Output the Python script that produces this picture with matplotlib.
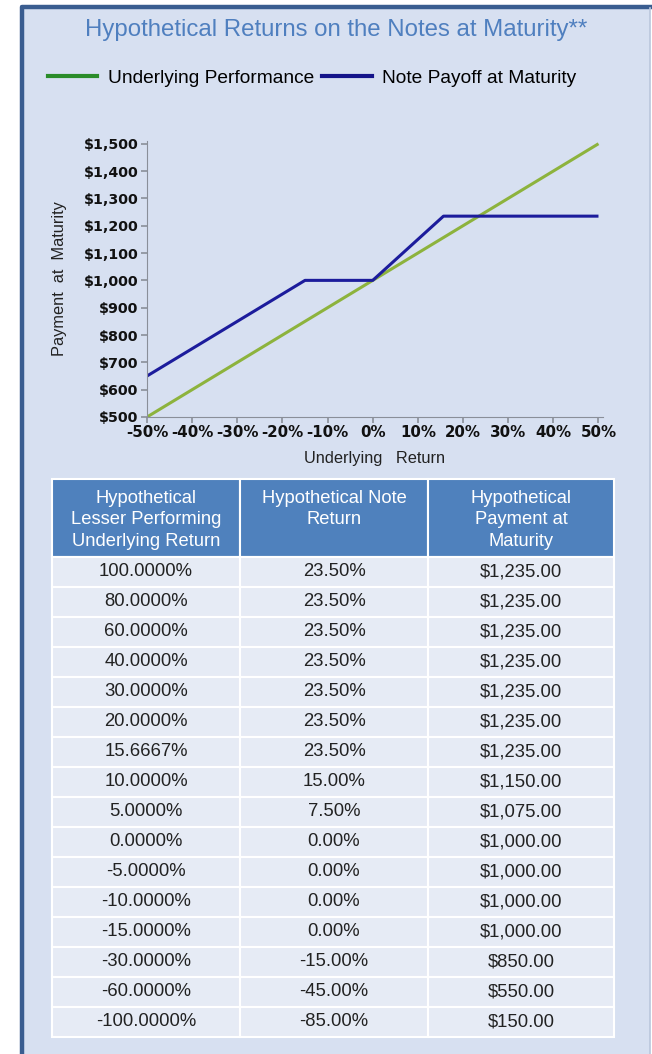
import matplotlib.pyplot as plt
from matplotlib.patches import Rectangle
from matplotlib.lines import Line2D
from matplotlib.ticker import FuncFormatter

# chart data
underlying_x = [-50, 50]
underlying_y = [500, 1500]
note_x = [-50, -15, 0, 15.6667, 50]
note_y = [650, 1000, 1000, 1235, 1235]

x_ticks = [-50, -40, -30, -20, -10, 0, 10, 20, 30, 40, 50]
y_ticks = [500, 600, 700, 800, 900, 1000, 1100, 1200, 1300, 1400, 1500]

# table data
headers = ["Hypothetical\nLesser Performing\nUnderlying Return",
           "Hypothetical Note\nReturn\n",
           "Hypothetical\nPayment at\nMaturity"]
lesser_return = ["100.0000%", "80.0000%", "60.0000%", "40.0000%", "30.0000%",
                 "20.0000%", "15.6667%", "10.0000%", "5.0000%", "0.0000%",
                 "-5.0000%", "-10.0000%", "-15.0000%", "-30.0000%",
                 "-60.0000%", "-100.0000%"]
note_return = ["23.50%", "23.50%", "23.50%", "23.50%", "23.50%", "23.50%",
               "23.50%", "15.00%", "7.50%", "0.00%", "0.00%", "0.00%",
               "0.00%", "-15.00%", "-45.00%", "-85.00%"]
payment = ["$1,235.00", "$1,235.00", "$1,235.00", "$1,235.00", "$1,235.00",
           "$1,235.00", "$1,235.00", "$1,150.00", "$1,075.00", "$1,000.00",
           "$1,000.00", "$1,000.00", "$1,000.00", "$850.00", "$550.00",
           "$150.00"]

W, H = 652, 1054
bg = "#d7e0f1"
sans = ["Liberation Sans", "DejaVu Sans"]

fig = plt.figure(figsize=(W / 100, H / 100), dpi=100)
fig.patch.set_facecolor("white")

# pixel-space overlay for panel, title and table
pan = fig.add_axes([0, 0, 1, 1])
pan.set_xlim(0, W)
pan.set_ylim(H, 0)
pan.axis("off")
pan.add_patch(Rectangle((20, 5), 630, 1060, facecolor=bg, edgecolor="none"))
pan.plot([21.5, 21.5, 652], [1054, 6.5, 6.5], color="#3a5d90", lw=3.2, solid_capstyle="butt")
pan.plot([650, 650], [8, 1054], color="#b9c6dc", lw=1.2)

pan.text(336, 30, "Hypothetical Returns on the Notes at Maturity**", ha="center", va="center",
         fontsize=17.3, color="#4f7fbf", family=sans)

# table
col_edges = [52, 240, 428, 614]
head_top, head_bot = 479, 557
row_h = 30.0
for j in range(3):
    x0, x1 = col_edges[j], col_edges[j + 1]
    pan.add_patch(Rectangle((x0, head_top), x1 - x0, head_bot - head_top,
                            facecolor="#4f81bd", edgecolor="white", lw=1.5))
    pan.text((x0 + x1) / 2, head_top + 41, headers[j], ha="center", va="center",
             fontsize=13.2, color="white", family=sans, linespacing=1.34)
    for i, val in enumerate([lesser_return, note_return, payment][j]):
        y0 = head_bot + i * row_h
        pan.add_patch(Rectangle((x0, y0), x1 - x0, row_h, facecolor="#e6ebf5",
                                edgecolor="white", lw=1.5))
        pan.text((x0 + x1) / 2, y0 + row_h / 2, val, ha="center", va="center",
                 fontsize=13.3, color="#222222", family=sans)

# line chart
ax = fig.add_axes([147 / W, 1 - 417 / H, 456 / W, 276 / H])
ax.set_facecolor(bg)
ax.plot(underlying_x, underlying_y, color="#8db33d", lw=2.2, solid_capstyle="butt")
ax.plot(note_x, note_y, color="#1c1c9c", lw=2.2, solid_capstyle="butt")
ax.set_xlim(-50, 51)
ax.set_ylim(500, 1510)
ax.set_xticks(x_ticks)
ax.set_yticks(y_ticks)
ax.xaxis.set_major_formatter(FuncFormatter(lambda v, p: f"{v:.0f}%"))
ax.yaxis.set_major_formatter(FuncFormatter(lambda v, p: f"${v:,.0f}"))
for s in ["top", "right"]:
    ax.spines[s].set_visible(False)
for s in ["left", "bottom"]:
    ax.spines[s].set_color("#8a8f99")
ax.tick_params(colors="#8a8f99", length=4, width=1.2, labelsize=10.3, labelcolor="#111111", pad=2)
ax.tick_params(axis="x", labelsize=10.8)
for lab in ax.get_xticklabels() + ax.get_yticklabels():
    lab.set_fontweight("bold")
ax.set_ylabel("Payment  at  Maturity", fontsize=11.8, family=sans, color="#222222")
ax.set_xlabel("Underlying   Return", fontsize=11.8, family=sans, color="#222222", labelpad=8)
ax.yaxis.set_label_coords(-0.175, 0.5)

# legend
handles = [Line2D([], [], color="#2a8c2a", lw=3), Line2D([], [], color="#14148a", lw=3)]
fig.legend(handles, ["Underlying Performance", "Note Payoff at Maturity"], loc="center",
           bbox_to_anchor=(312 / W, 1 - 78 / H), ncol=2, frameon=False, handlelength=2.6,
           columnspacing=0.4, handletextpad=0.55, prop={"family": sans, "size": 13.8})

plt.savefig("out.png", dpi=100)
